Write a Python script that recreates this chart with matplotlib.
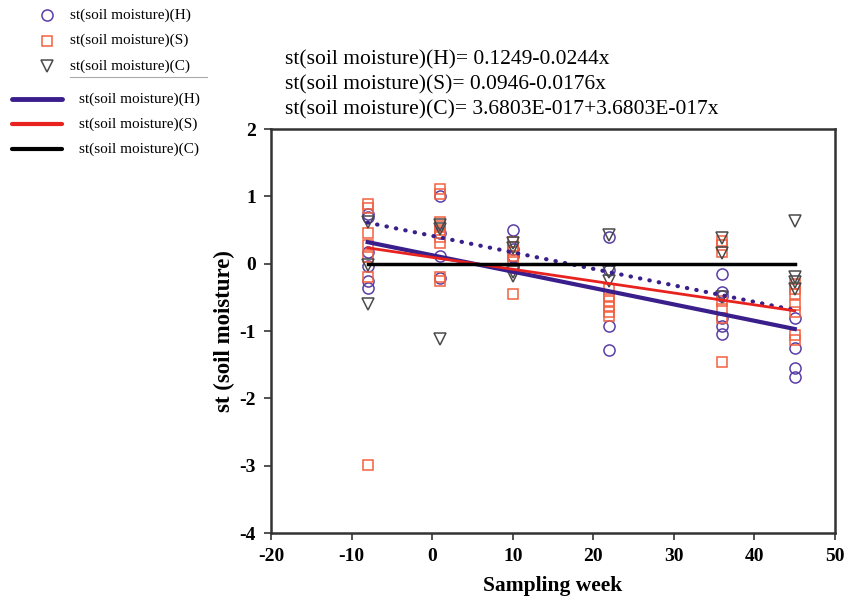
import matplotlib
matplotlib.use("Agg")
import matplotlib.pyplot as plt
from matplotlib.lines import Line2D

# ---------------- data ----------------
weeks_H = [-8]*6 + [1]*4 + [10]*4 + [22]*4 + [36]*6 + [45]*4
vals_H = [0.74, 0.70, 0.17, -0.04, -0.25, -0.36,
          1.01, 0.46, 0.12, -0.21,
          0.50, 0.22, 0.12, -0.05,
          0.40, -0.10, -0.92, -1.28,
          -0.16, -0.42, -0.48, -0.80, -0.92, -1.05,
          -0.80, -1.25, -1.55, -1.68]

weeks_S = [-8]*7 + [1]*9 + [10]*6 + [22]*6 + [36]*7 + [45]*7
vals_S = [0.89, 0.83, 0.46, 0.27, 0.10, -0.20, -2.99,
          1.11, 1.04, 0.62, 0.56, 0.50, 0.40, 0.30, -0.20, -0.25,
          0.32, 0.25, 0.18, 0.12, 0.05, -0.45,
          -0.38, -0.48, -0.55, -0.65, -0.72, -0.78,
          0.34, 0.28, 0.18, -0.55, -0.68, -0.80, -1.46,
          -0.30, -0.38, -0.45, -0.62, -0.72, -1.06, -1.14]

weeks_C = [-8]*3 + [1]*3 + [10]*4 + [22]*3 + [36]*3 + [45]*4
vals_C = [0.62, -0.02, -0.60,
          0.58, 0.52, -1.12,
          0.30, 0.24, -0.12, -0.18,
          0.42, -0.12, -0.26,
          0.38, 0.16, -0.50,
          0.64, -0.20, -0.27, -0.38]

fit_x = [-8, 45]
fit_H = [0.32, -0.97]
fit_S = [0.235, -0.70]
fit_C = [0.0, 0.0]
dotted_y = [0.61, -0.69]

series_labels = ["st(soil moisture)(H)", "st(soil moisture)(S)", "st(soil moisture)(C)"]
equations = ["st(soil moisture)(H)= 0.1249-0.0244x",
             "st(soil moisture)(S)= 0.0946-0.0176x",
             "st(soil moisture)(C)= 3.6803E-017+3.6803E-017x"]
x_ticks = [-20, -10, 0, 10, 20, 30, 40, 50]
y_ticks = [-4, -3, -2, -1, 0, 1, 2]

# ---------------- style ----------------
c_H = "#5a3ea6"
c_S = "#f2603e"
c_C = "#4a4a4a"
line_H = "#3a1f8c"
line_S = "#e8231f"
line_C = "#000000"
serif = ["Liberation Serif", "DejaVu Serif"]

fig = plt.figure(figsize=(8.58, 6.01), dpi=100)
ax = fig.add_axes([271/858, 1-533/601, (835-271)/858, (533-129)/601])

ms = 8
ax.plot(weeks_H, vals_H, linestyle="none", marker="o", ms=ms, mfc="none",
        mec=c_H, mew=1.1, zorder=3)
ax.plot(weeks_S, vals_S, linestyle="none", marker="s", ms=ms-0.5, mfc="none",
        mec=c_S, mew=1.1, zorder=3)
ax.plot(weeks_C, vals_C, linestyle="none", marker="v", ms=ms, mfc="none",
        mec=c_C, mew=1.1, zorder=3)

ax.plot(fit_x, dotted_y, color=line_H, lw=3, linestyle=(0, (0.1, 2.2)),
        dash_capstyle="round", zorder=4)
ax.plot(fit_x, fit_H, color=line_H, lw=3, zorder=4)
ax.plot(fit_x, fit_S, color=line_S, lw=2, zorder=4)
ax.plot(fit_x, fit_C, color=line_C, lw=2.5, zorder=4)

ax.set_xlim(-20, 50)
ax.set_ylim(-4, 2)
ax.set_xticks(x_ticks)
ax.set_yticks(y_ticks)
ax.set_xticklabels([str(t) for t in x_ticks], family=serif, fontsize=14, fontweight="bold")
ax.set_yticklabels([str(t) for t in y_ticks], family=serif, fontsize=14, fontweight="bold")
ax.tick_params(direction="out", length=5, width=1.2, color="#333333", pad=6)
for sp in ax.spines.values():
    sp.set_linewidth(1.8)
    sp.set_color("#333333")

ax.set_xlabel("Sampling week", family=serif, fontsize=15.5, fontweight="bold", labelpad=8)
ax.set_ylabel("st (soil moisture)", family=serif, fontsize=16.5, fontweight="bold", labelpad=3)

# equations above the plot
for i, eq in enumerate(equations):
    fig.text(285/858, 1-(60+25*i)/601, eq, family=serif, fontsize=15.5,
             va="center", ha="left")

# legend (figure coords)
def fx(px):
    return px/858

def fy(py):
    return 1-py/601

mk = [("o", c_H, ms), ("s", c_S, ms-0.5), ("v", c_C, ms)]
for i, (m, c, s) in enumerate(mk):
    y = 15 + 25.5*i
    fig.add_artist(Line2D([fx(47)], [fy(y)], marker=m, ms=s, mfc="none", mec=c,
                          mew=1.1, linestyle="none"))
    fig.text(fx(70), fy(y), series_labels[i], family=serif, fontsize=11, va="center")
fig.add_artist(Line2D([fx(70), fx(207)], [fy(77), fy(77)], color="#aaaaaa", lw=0.8))

lc = [(line_H, 3.5), (line_S, 3.0), (line_C, 3.0)]
for i, (c, w) in enumerate(lc):
    y = 99 + 25*i
    fig.add_artist(Line2D([fx(12), fx(62)], [fy(y), fy(y)], color=c, lw=w,
                          solid_capstyle="round"))
    fig.text(fx(79), fy(y), series_labels[i], family=serif, fontsize=11, va="center")

fig.savefig("out.png", dpi=100)
